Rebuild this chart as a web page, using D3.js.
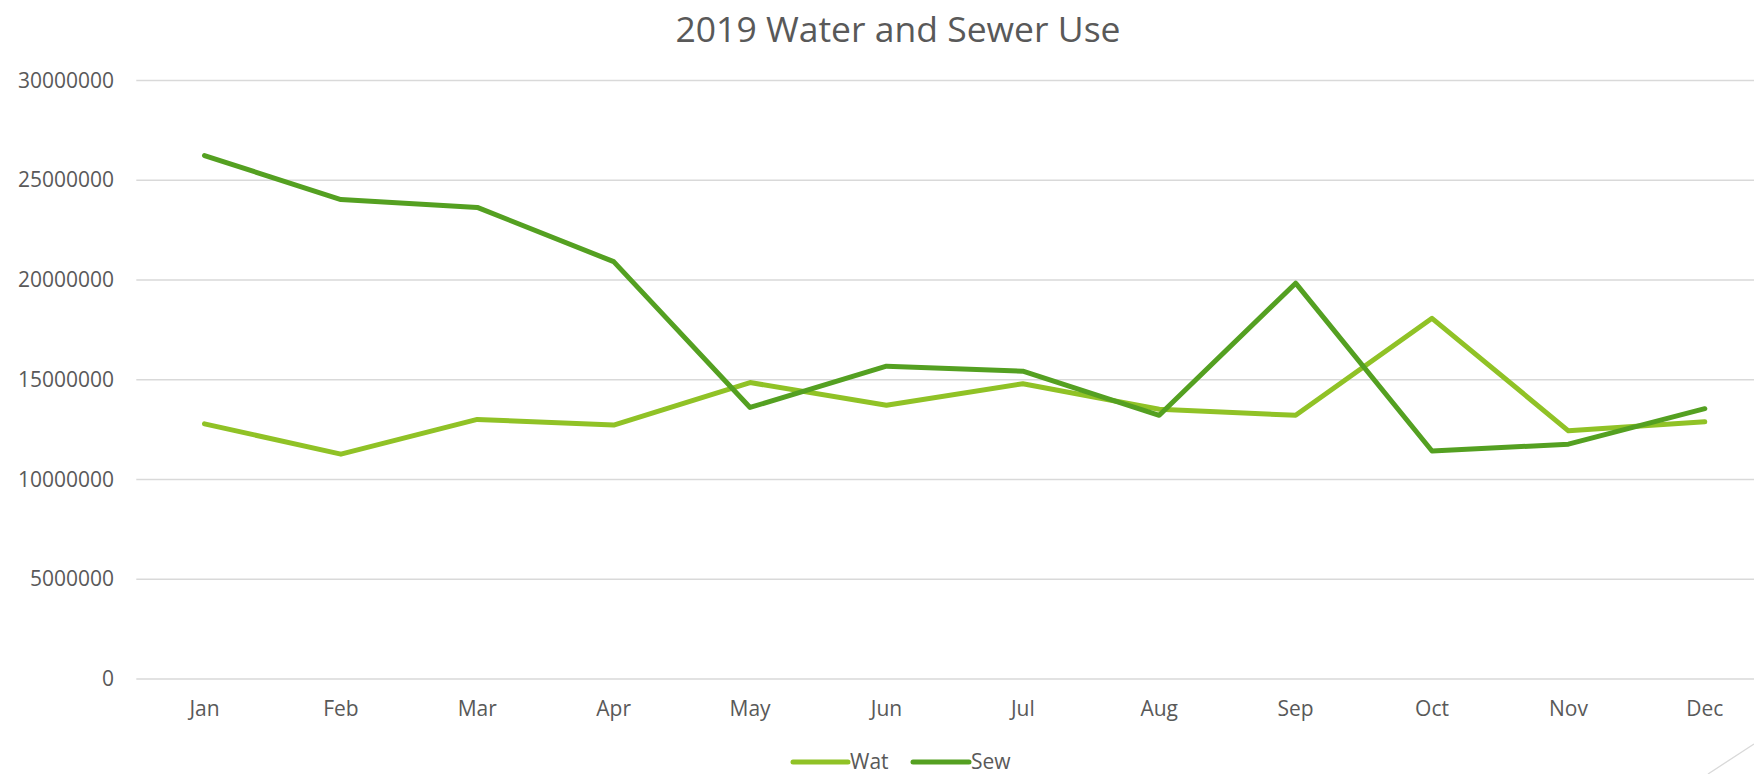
<!DOCTYPE html>
<html>
<head>
<meta charset="utf-8">
<script src="https://cdn.jsdelivr.net/npm/d3@7"></script>
<style>
  html, body { margin: 0; padding: 0; background: #fff; }
  svg { display: block; }
  text { font-family: "Open Sans", "Noto Sans", sans-serif; fill: #595959; }
</style>
</head>
<body>
<svg id="chart" width="1754" height="774"></svg>
<script>
const title = "2019 Water and Sewer Use";
const months = ["Jan","Feb","Mar","Apr","May","Jun","Jul","Aug","Sep","Oct","Nov","Dec"];
const seriesNames = ["Wat", "Sew"];
const watValues = [12790000, 11270000, 13010000, 12730000, 14860000, 13720000, 14800000, 13520000, 13220000, 18080000, 12440000, 12890000];
const sewValues = [26240000, 24030000, 23640000, 20920000, 13610000, 15680000, 15430000, 13220000, 19840000, 11430000, 11770000, 13550000];
const yTicks = [0, 5000000, 10000000, 15000000, 20000000, 25000000, 30000000];
const colors = ["#90C226", "#54A021"];

const W = 1754, H = 774;
const svg = d3.select("#chart");

const x = d3.scaleBand().domain(months).range([136.3, 1773]).padding(0);
const y = d3.scaleLinear().domain([0, 30000000]).range([679, 80.5]);

// Title
svg.append("text")
  .attr("x", 898).attr("y", 42)
  .attr("text-anchor", "middle")
  .style("font-size", "35.5px")
  .text(title);

// Gridlines
svg.append("g").selectAll("line").data(yTicks).join("line")
  .attr("x1", 136.3).attr("x2", W)
  .attr("y1", d => y(d)).attr("y2", d => y(d))
  .attr("stroke", "#D9D9D9").attr("stroke-width", 1.3);

// Y axis labels
const yAxis = d3.axisLeft(y).tickValues(yTicks).tickSize(0).tickPadding(0).tickFormat(d3.format("d"));
const gy = svg.append("g").attr("transform", "translate(114,0)").call(yAxis);
gy.select(".domain").remove();
gy.selectAll("text").style("font-size", "21px").attr("fill", "#595959")
  .style("font-family", "\"Open Sans\", sans-serif");

// X axis labels
const xAxis = d3.axisBottom(x).tickSize(0).tickPadding(0);
const gx = svg.append("g").attr("transform", "translate(0,701)").call(xAxis);
gx.select(".domain").remove();
gx.selectAll("text").style("font-size", "21px").attr("fill", "#595959")
  .style("font-family", "\"Open Sans\", sans-serif");

// Lines
const line = d3.line().x((d, i) => x(months[i]) + x.bandwidth() / 2).y(d => y(d));
[watValues, sewValues].forEach((vals, k) => {
  svg.append("path")
    .datum(vals)
    .attr("d", line)
    .attr("fill", "none")
    .attr("stroke", colors[k])
    .attr("stroke-width", 5)
    .attr("stroke-linejoin", "round")
    .attr("stroke-linecap", "round");
});

// Legend
const legendItems = [
  { name: seriesNames[0], color: colors[0], x1: 793, x2: 848, tx: 850 },
  { name: seriesNames[1], color: colors[1], x1: 913, x2: 969, tx: 971 }
];
const lg = svg.append("g");
legendItems.forEach(it => {
  lg.append("line").attr("x1", it.x1).attr("x2", it.x2).attr("y1", 762).attr("y2", 762)
    .attr("stroke", it.color).attr("stroke-width", 5).attr("stroke-linecap", "round");
  lg.append("text").attr("x", it.tx).attr("y", 769).style("font-size", "21px").text(it.name);
});

// Decorative corner line
svg.append("line").attr("x1", 1754).attr("y1", 744).attr("x2", 1708).attr("y2", 774)
  .attr("stroke", "#D9D9D9").attr("stroke-width", 1.3);
</script>
</body>
</html>
